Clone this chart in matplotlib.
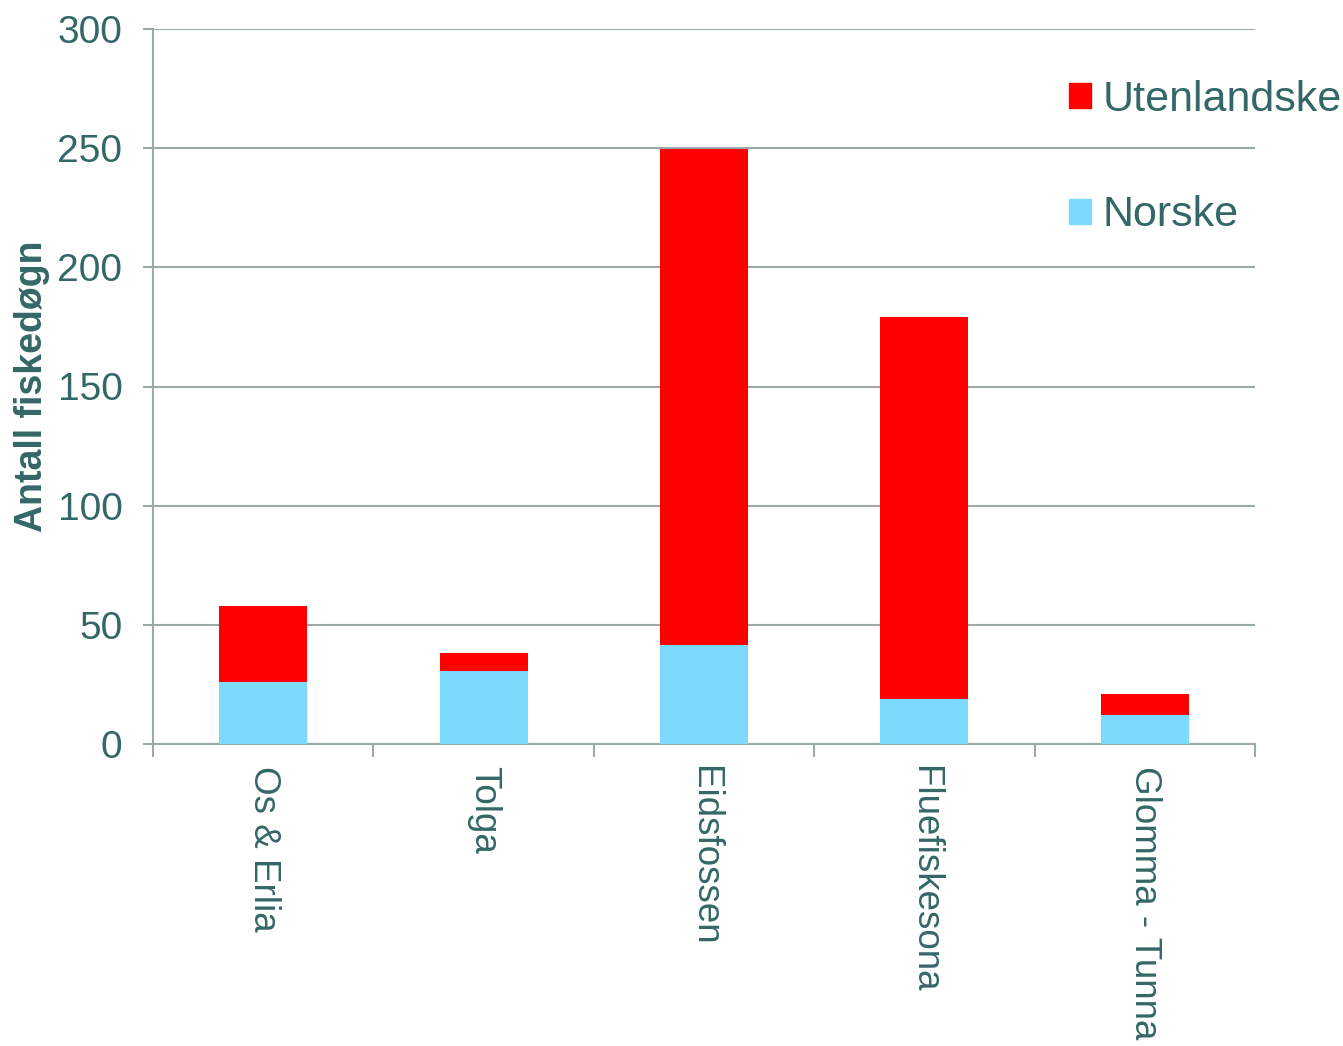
import matplotlib.pyplot as plt
from matplotlib.patches import Patch
import numpy as np

plt.rcParams['font.family'] = ['Liberation Sans', 'DejaVu Sans']

steder = ["Os & Erlia", "Tolga", "Eidsfossen", "Fluefiskesona", "Glomma - Tunna"]
norske = [26, 30.5, 41.5, 19, 12]
utenlandske = [32, 7.7, 208, 160, 9]

tekst = '#346767'
grid_farge = '#9BA9A9'
rod = '#FF0000'
bla = '#7CDAFC'

fig = plt.figure(figsize=(13.43, 10.46), dpi=100)
ax = fig.add_axes([153/1343, 1 - 744/1046, (1255 - 153)/1343, (744 - 29)/1046])

x = np.arange(len(steder))
ax.bar(x, norske, width=0.4, color=bla, zorder=3)
ax.bar(x, utenlandske, width=0.4, bottom=norske, color=rod, zorder=3)

ax.set_xlim(-0.5, len(steder) - 0.5)
ax.set_ylim(0, 300)
ax.set_yticks(range(0, 301, 50))
ax.yaxis.grid(True, color=grid_farge, linewidth=1.5, zorder=0)

# kategorigrenser som hovedticks, navn som minor ticks
ax.set_xticks(np.arange(-0.5, len(steder), 1.0))
ax.set_xticklabels([])
ax.set_xticks(x, minor=True)
ax.set_xticklabels(steder, minor=True, rotation=-90, fontsize=26.5, color=tekst, va='top', ha='center')
ax.tick_params(axis='x', which='major', length=9, width=1.5, color=grid_farge, direction='out')
ax.tick_params(axis='x', which='minor', length=0, pad=16)
ax.tick_params(axis='y', length=7, width=1.5, color=grid_farge, labelsize=28, labelcolor=tekst, pad=15)

for s in ['top', 'right']:
    ax.spines[s].set_visible(False)
for s in ['left', 'bottom']:
    ax.spines[s].set_color(grid_farge)
    ax.spines[s].set_linewidth(1.5)

ax.set_ylabel("Antall fiskedøgn", fontsize=27, fontweight='bold', color=tekst, labelpad=5)

handles = [Patch(color=rod, label="Utenlandske"), Patch(color=bla, label="Norske")]
leg = fig.legend(handles=handles, loc='upper left', bbox_to_anchor=(1069/1343, 1 - 80/1046),
                 frameon=False, fontsize=31, labelspacing=1.75, handlelength=0.52,
                 handleheight=0.52, handletextpad=0.25, borderpad=0, borderaxespad=0)
for t in leg.get_texts():
    t.set_color(tekst)

fig.savefig("out.png", dpi=100)
